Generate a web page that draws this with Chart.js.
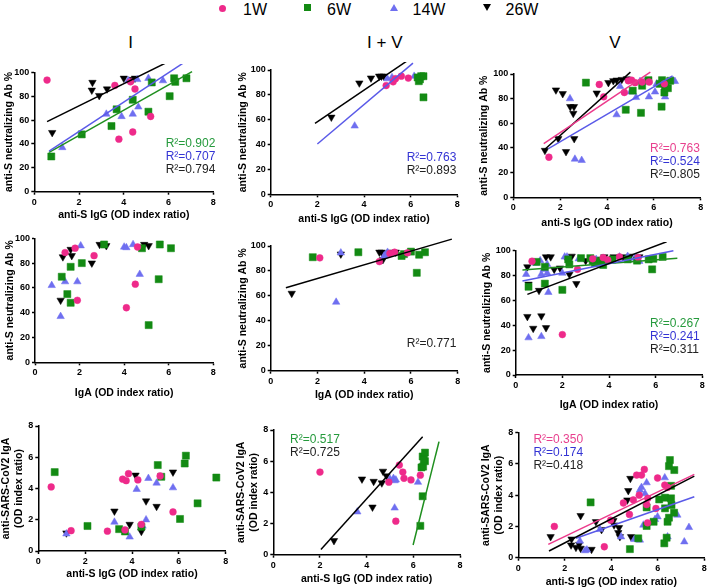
<!DOCTYPE html>
<html>
<head>
<meta charset="utf-8">
<script src="https://cdn.jsdelivr.net/npm/chart.js@4.4.1/dist/chart.umd.min.js"></script>
<style>
  body { margin:0; background:#fff; }
  #page { position:relative; width:709px; height:588px; overflow:hidden; font-family:"Liberation Sans", Arial, sans-serif; color:#000; }
  #page canvas { position:absolute; }
  .lg { position:absolute; font-size:16px; line-height:16px; white-space:nowrap; }
  .col { position:absolute; font-size:17px; line-height:17px; transform:translateX(-50%); white-space:nowrap; }
  .mk { position:absolute; }
</style>
</head>
<body>
<div id="page">
  <!-- legend at the top -->
  <div class="mk" style="left:219px;top:4.8px;width:7px;height:7px;border-radius:50%;background:#ee2a8a"></div>
  <div class="lg" style="left:243px;top:1.5px">1W</div>
  <div class="mk" style="left:303.5px;top:4px;width:7px;height:7px;background:#138a13"></div>
  <div class="lg" style="left:327px;top:1.5px">6W</div>
  <div class="mk" style="left:389.5px;top:4px;width:0;height:0;border-left:4px solid transparent;border-right:4px solid transparent;border-bottom:7px solid #6f6ff0"></div>
  <div class="lg" style="left:412.5px;top:1.5px">14W</div>
  <div class="mk" style="left:482.5px;top:3.5px;width:0;height:0;border-left:4px solid transparent;border-right:4px solid transparent;border-top:7px solid #000"></div>
  <div class="lg" style="left:505.5px;top:1.5px">26W</div>

  <!-- column titles -->
  <div class="col" style="left:130.5px;top:34px">I</div>
  <div class="col" style="left:384.8px;top:34px">I + V</div>
  <div class="col" style="left:614.8px;top:34px">V</div>

  <canvas id="c1"></canvas><canvas id="c2"></canvas><canvas id="c3"></canvas>
  <canvas id="c4"></canvas><canvas id="c5"></canvas><canvas id="c6"></canvas>
  <canvas id="c7"></canvas><canvas id="c8"></canvas><canvas id="c9"></canvas>
</div>
<script>
// groups: weeks after vaccination
const weeks = ['1W', '6W', '14W', '26W'];
const pctTicks = [0, 20, 40, 60, 80, 100];
const odTicks = [0, 2, 4, 6, 8];

// ---- row 1 : neutralizing Ab % vs anti-S IgG
const I_igg_1W = [[0.57,93.5],[3.6,89],[4.3,92],[4.5,86],[3.78,44],[4.4,50],[5.2,63]];
const I_igg_6W = [[0.76,29.5],[2.12,48],[3.45,55],[3.68,69],[4.4,77],[5.1,67],[5.25,91.5],[6.05,80],[6.25,95],[6.3,92],[6.8,95]];
const I_igg_14W = [[1.25,37],[3.22,65],[3.9,63],[4.4,65],[4.65,71],[4.2,93],[4.6,94],[5.1,95],[5.75,93]];
const I_igg_26W = [[0.8,49.5],[2.6,91.5],[2.57,85],[2.9,80.5],[3.25,86],[4.0,95],[4.4,94],[4.5,95]];
const I_igg_fit = [['26W',0.57,58.7,6.65,115],['14W',0.66,34,6.8,109.5],['6W',0.66,33,7.05,100.5]];
const I_igg_r2 = [['6W','0.902'],['14W','0.707'],['26W','0.794']];

const IV_igg_1W = [[4.95,87.5],[5.25,90.5],[5.35,93],[5.6,95],[5.9,93.5]];
const IV_igg_6W = [[6.3,94],[6.35,91],[6.4,92.5],[6.45,95],[6.55,95],[6.55,78]];
const IV_igg_14W = [[3.6,55],[5.0,93],[5.2,94],[6.15,95]];
const IV_igg_26W = [[2.6,62],[3.8,89.5],[4.3,93.5],[4.65,95],[4.75,95],[4.85,95]];
const IV_igg_fit = [['26W',1.9,57,5.9,108],['14W',2.0,40.5,6.1,105.5]];
const IV_igg_r2 = [['14W','0.763'],['26W','0.893']];

const V_igg_1W = [[1.52,32.5],[3.67,91.5],[3.86,81.5],[4.74,85],[4.91,94.5],[5.05,95],[5.2,93],[5.5,93.5],[5.8,93.5],[6.45,92]];
const V_igg_6W = [[3.1,93],[4.8,71],[5.1,86.5],[5.45,68.5],[5.5,90.5],[5.77,95],[6.25,92],[6.33,73.5],[6.35,95],[6.45,85],[6.48,90.5],[6.5,93],[6.6,88.5],[6.7,94.5]];
const V_igg_14W = [[2.42,80],[2.63,31],[2.92,30],[4.41,67],[4.56,90],[5.01,85.5],[5.24,81],[5.41,94],[5.6,93.5],[5.79,81.5],[6.05,85.5],[6.12,92],[6.33,92.5],[6.48,81.5],[6.83,94.5],[6.9,94]];
const V_igg_26W = [[1.35,38],[1.82,87],[1.92,47.5],[2.11,84],[2.25,37],[2.43,73.5],[2.59,73.5],[2.56,68],[2.6,47.5],[3.56,84.5],[4.06,93],[4.27,94.5],[4.41,95],[4.63,95.5],[4.84,96]];
const V_igg_fit = [['1W',1.3,43.5,5.85,101.5],['26W',1.35,39,5.0,101.5],['14W',1.5,39.5,6.8,98.5]];
const V_igg_r2 = [['1W','0.763'],['14W','0.524'],['26W','0.805']];

// ---- row 2 : neutralizing Ab % vs IgA
const I_iga_1W = [[1.35,88.5],[1.8,92],[1.9,50],[2.65,86],[4.1,44],[4.5,63],[4.6,93]];
const I_iga_6W = [[1.2,69],[1.45,55],[1.6,77],[1.6,48],[2.1,80],[3.1,95],[4.8,92],[5.1,30],[5.55,67],[5.6,95],[6.1,92]];
const I_iga_14W = [[0.75,62],[1.15,37],[1.35,65],[1.9,65],[2.05,94],[4.0,93],[4.1,92.5],[4.4,95],[4.7,71]];
const I_iga_26W = [[1.15,50],[1.25,85],[1.6,91],[1.65,86],[2.55,80],[2.9,95],[3.2,94],[4.9,95],[5.1,94]];

const IV_iga_1W = [[2.1,90.5],[4.65,87.5],[5.1,94],[5.3,95],[5.85,94.5]];
const IV_iga_6W = [[1.8,91],[3.75,95],[5.6,92],[5.7,93.5],[6.0,95.5],[6.25,78.5],[6.35,93],[6.6,95]];
const IV_iga_14W = [[2.8,55],[3.0,94.5],[4.85,92],[4.9,93],[5.0,95]];
const IV_iga_26W = [[0.9,62],[3.0,93.5],[4.65,95],[4.75,95],[4.8,89],[4.95,94],[5.1,95],[5.35,95]];
const IV_iga_fit = [['26W',0.65,66.5,7.75,105.5]];
const IV_iga_r2 = [['26W','0.771']];

const V_iga_1W = [[0.7,91.5],[2.0,32.5],[2.65,85],[3.3,93.5],[3.75,94.5],[3.95,92.5],[4.45,95],[5.25,94.5]];
const V_iga_6W = [[0.55,71],[0.9,91],[1.25,73.5],[1.25,87],[2.0,68.5],[2.25,93],[2.3,89],[2.8,94],[3.2,94],[3.3,92],[3.4,90],[3.5,91],[3.65,92],[3.75,88.5],[4.15,93],[4.8,93],[5.2,92],[5.7,93],[5.85,85],[5.9,93.5],[6.3,95]];
const V_iga_14W = [[0.45,81],[0.55,30],[0.85,90],[1.05,92],[1.1,81],[1.1,31],[1.2,85],[1.35,82],[1.35,89],[1.4,66.5],[2.0,82],[2.1,95],[2.2,95],[2.7,93.5],[3.45,93],[4.45,95],[4.8,95.5],[5.1,94],[5.3,91.5]];
const V_iga_26W = [[0.5,87],[0.55,73],[0.5,47],[0.75,37.5],[1.0,68],[1.1,47.5],[1.3,38],[1.3,95],[1.5,95],[1.65,85],[1.9,86],[2.2,93],[2.3,81],[2.4,95.5],[2.6,73.5],[3.0,92],[3.6,93],[3.8,95],[4.2,95],[4.6,95],[4.9,95.5],[5.3,95]];
const V_iga_fit = [['26W',0.5,64.9,6.47,107.2],['14W',0.29,75.6,6.76,100],['6W',0.29,84.5,6.93,93.9]];
const V_iga_r2 = [['6W','0.267'],['14W','0.241'],['26W','0.311']];

// ---- row 3 : anti-SARS-CoV2 IgA vs anti-S IgG
const I_gga_1W = [[0.55,4.1],[1.4,1.3],[2.95,1.27],[3.6,4.6],[3.75,4.5],[3.85,4.95],[4.25,4.55],[3.7,1.35],[4.4,1.7],[5.2,4.8],[5.75,2.5]];
const I_gga_6W = [[0.7,5.05],[2.1,1.6],[3.45,1.4],[3.7,1.25],[4.4,1.55],[5.1,5.5],[5.25,4.75],[6.05,2.05],[6.25,5.6],[6.3,6.1],[6.8,3.05],[7.6,4.7]];
const I_gga_14W = [[1.2,1.1],[3.25,1.85],[3.9,0.9],[4.2,3.95],[4.45,1.6],[4.6,2.0],[4.7,4.65],[5.05,4.35],[5.75,4.05]];
const I_gga_26W = [[1.2,1.15],[3.25,2.55],[3.9,1.7],[4.15,4.85],[4.4,1.25],[4.6,3.2],[5.05,2.85],[5.75,5.05]];

const IV_gga_1W = [[2.0,5.3],[4.95,4.65],[5.25,2.15],[5.4,5.75],[5.55,5.3],[5.6,4.9],[5.9,4.8],[6.3,5.1]];
const IV_gga_6W = [[6.3,1.85],[6.4,3.75],[6.35,5.6],[6.42,5.65],[6.4,6.3],[6.5,6.0],[6.5,6.55],[6.45,6.1]];
const IV_gga_14W = [[3.6,2.75],[5.0,4.85],[5.15,4.9],[5.2,4.75],[5.25,4.8],[5.2,3.0],[6.2,4.65]];
const IV_gga_26W = [[2.6,0.9],[3.8,4.85],[4.25,3.05],[4.3,4.7],[4.65,4.6],[4.7,5.35],[4.85,5.05]];
const IV_gga_fit = [['26W',2.04,0.34,6.4,7.57],['6W',5.99,0.62,7.1,7.25]];
const IV_gga_r2 = [['6W','0.517'],['26W','0.725']];

const V_gga_1W = [[1.55,2.0],[3.7,0.7],[3.97,2.4],[4.52,3.5],[4.78,2.77],[4.95,3.7],[5.09,5.29],[5.2,4.0],[5.3,5.29],[5.42,5.65],[5.52,3.4],[5.57,3.8],[5.56,2.23],[5.92,3.15],[5.99,5.1],[6.3,4.65],[6.42,4.5]];
const V_gga_6W = [[3.11,3.54],[4.8,0.55],[5.16,1.24],[5.52,3.22],[5.52,2.03],[5.82,2.3],[6.06,3.73],[6.28,0.92],[6.31,3.84],[6.31,3.16],[6.38,1.28],[6.42,2.3],[6.48,2.56],[6.52,6.25],[6.48,5.86],[6.57,3.8],[6.59,3.37],[6.7,2.88],[6.71,5.61],[6.57,4.6]];
const V_gga_14W = [[2.65,1.07],[2.87,0.45],[2.95,0.5],[3.51,1.81],[4.42,1.34],[4.99,1.17],[5.23,1.13],[5.38,2.09],[5.23,4.33],[5.3,4.5],[5.45,4.1],[5.52,4.8],[5.88,2.45],[5.99,2.62],[6.3,5.12],[6.42,1.34],[6.84,2.73],[7.14,1.02],[7.34,1.94]];
const V_gga_26W = [[1.39,1.34],[2.29,1.19],[2.27,0.81],[2.48,0.66],[2.62,0.85],[2.68,2.69],[2.68,0.6],[3.15,0.53],[3.34,2.3],[3.58,1.8],[4.09,2.37],[4.12,2.09],[4.3,1.6],[4.37,1.34],[4.33,1.92],[4.69,3.69],[4.73,4.29],[4.82,5.07],[4.85,1.34]];
const V_gga_fit = [['1W',1.29,0.85,7.57,5.33],['26W',1.32,0.43,7.57,5.22],['14W',2.48,1.24,7.57,3.9]];
const V_gga_r2 = [['1W','0.350'],['14W','0.174'],['26W','0.418']];

// look of each group
const FONT = '"Liberation Sans", Arial, sans-serif';
const markColor = {'1W':'#ee2a8a', '6W':'#138a13', '14W':'#6f6ff0', '26W':'#000'};
const lineColor = {'1W':'#ec3a8c', '6W':'#1f8f1f', '14W':'#5a5ae8', '26W':'#000'};
const textColor = {'1W':'#e8408e', '6W':'#259a3c', '14W':'#3434d4', '26W':'#222'};
const markStyle = {'1W':['circle',3.4,0], '6W':['rect',5,0], '14W':['triangle',4.3,0], '26W':['triangle',4.3,180]};

const T_IGG = 'anti-S IgG (OD index ratio)';
const T_IGA = 'IgA (OD index ratio)';
const T_NEUT = 'anti-S neutralizing Ab %';
const T_SARS = ['anti-SARS-CoV2 IgA', '(OD index ratio)'];

// box = plot area [left, right, top, bottom] in page pixels
const panels = [
  {id:'c1', pts:[I_igg_1W,I_igg_6W,I_igg_14W,I_igg_26W], fit:I_igg_fit, r2:I_igg_r2, note:[5.87,40.6], xt:T_IGG, yt:T_NEUT, yTicks:pctTicks, box:[34.3,213.3,72.3,191.7], yOff:25, xGap:23.3},
  {id:'c2', pts:[IV_igg_1W,IV_igg_6W,IV_igg_14W,IV_igg_26W], fit:IV_igg_fit, r2:IV_igg_r2, note:[5.83,29.8], xt:T_IGG, yt:T_NEUT, yTicks:pctTicks, box:[270.7,457.3,70,194.3], yOff:27.7, xGap:24.7},
  {id:'c3', pts:[V_igg_1W,V_igg_6W,V_igg_14W,V_igg_26W], fit:V_igg_fit, r2:V_igg_r2, note:[5.84,39.7], xt:T_IGG, yt:T_NEUT, yTicks:pctTicks, box:[513.3,700.7,74,197.3], yOff:29, xGap:25.4},
  {id:'c4', pts:[I_iga_1W,I_iga_6W,I_iga_14W,I_iga_26W], fit:[], r2:[], note:[0,0], xt:T_IGA, yt:T_NEUT, yTicks:pctTicks, box:[35,213.3,238.3,362.3], yOff:25, xGap:30.7},
  {id:'c5', pts:[IV_iga_1W,IV_iga_6W,IV_iga_14W,IV_iga_26W], fit:IV_iga_fit, r2:IV_iga_r2, note:[5.82,22], xt:T_IGA, yt:T_NEUT, yTicks:pctTicks, box:[270.7,457.7,246,370.7], yOff:27.7, xGap:24.3},
  {id:'c6', pts:[V_iga_1W,V_iga_6W,V_iga_14W,V_iga_26W], fit:V_iga_fit, r2:V_iga_r2, note:[5.76,41.6], xt:T_IGA, yt:T_NEUT, yTicks:pctTicks, box:[515.7,702.3,250.7,375], yOff:29, xGap:30},
  {id:'c7', pts:[I_gga_1W,I_gga_6W,I_gga_14W,I_gga_26W], fit:[], r2:[], note:[0,0], xt:T_IGG, yt:T_SARS, yTicks:odTicks, box:[38.3,225.7,426,551], yOff:32.3, xGap:23.3},
  {id:'c8', pts:[IV_gga_1W,IV_gga_6W,IV_gga_14W,IV_gga_26W], fit:IV_gga_fit, r2:IV_gga_r2, note:[0.72,7.4], xt:T_IGG, yt:T_SARS, yTicks:odTicks, box:[273.3,460,430,554.7], yOff:32, xGap:24.6},
  {id:'c9', pts:[V_gga_1W,V_gga_6W,V_gga_14W,V_gga_26W], fit:V_gga_fit, r2:V_gga_r2, note:[0.65,7.54], xt:T_IGG, yt:T_SARS, yTicks:odTicks, box:[518.3,704.3,432.7,557.7], yOff:31.8, xGap:24}
];

const TITLE_SIZE = 10.5, TITLE_LH = 1.24;

function drawPanel(p) {
  const [L, R, T, B] = p.box;
  const lh = TITLE_SIZE * TITLE_LH;
  const wy = p.yOff + lh / 2;   // y axis box (ticks + title)
  const hx = p.xGap + lh / 2;   // x axis box
  const cl = Math.floor(L - wy), ct = Math.floor(T - 8);
  const w = Math.ceil(R + 8 - cl), h = Math.ceil(B + hx - ct);
  const pad = {left: L - wy - cl, top: T - ct, right: w - (R - cl), bottom: h - hx - (B - ct)};

  const cv = document.getElementById(p.id);
  cv.width = w; cv.height = h;
  cv.style.left = cl + 'px'; cv.style.top = ct + 'px';

  const datasets = [];
  p.fit.forEach(f => datasets.push({
    data: [{x:f[1], y:f[2]}, {x:f[3], y:f[4]}],
    showLine: true, borderColor: lineColor[f[0]], borderWidth: 1.5,
    pointRadius: 0, clip: false
  }));
  weeks.forEach((wk, i) => {
    const [ps, r, rot] = markStyle[wk];
    datasets.push({
      label: wk,
      data: p.pts[i].map(d => ({x:d[0], y:d[1]})),
      pointStyle: ps, pointRadius: r, pointRotation: rot,
      pointBackgroundColor: markColor[wk], pointBorderColor: markColor[wk], pointBorderWidth: 0.5,
      clip: false
    });
  });

  // R² texts inside the plot
  const notes = {
    id: 'notes',
    afterDatasetsDraw(chart) {
      if (!p.r2.length) return;
      const {ctx, scales} = chart;
      const x0 = scales.x.getPixelForValue(p.note[0]);
      const y0 = scales.y.getPixelForValue(p.note[1]);
      ctx.save();
      ctx.font = '12px ' + FONT;
      ctx.textBaseline = 'middle';
      ctx.textAlign = 'left';
      p.r2.forEach((r, i) => {
        ctx.fillStyle = textColor[r[0]];
        ctx.fillText('R\u00b2=' + r[1], x0, y0 + i * 13);
      });
      ctx.restore();
    }
  };

  const axis = (ticks, max, title, isX) => ({
    type: 'linear', min: 0, max: max,
    afterBuildTicks: s => { s.ticks = ticks.map(v => ({value: v})); },
    afterFit: s => { if (isX) s.height = hx; else s.width = wy; },
    grid: {drawOnChartArea: false, drawTicks: true, tickLength: 3, tickWidth: 1.5, tickColor: '#000'},
    border: {display: true, color: '#000', width: 1.5},
    ticks: {color: '#000', padding: 2, autoSkip: false, maxRotation: 0, font: {family: FONT, size: 9, weight: 'bold'}},
    title: {display: true, text: title, color: '#000', padding: 0, font: {family: FONT, size: TITLE_SIZE, weight: 'bold', lineHeight: TITLE_LH}}
  });

  new Chart(cv, {
    type: 'scatter',
    data: {datasets},
    options: {
      responsive: false, animation: false, devicePixelRatio: 1,
      layout: {padding: pad},
      plugins: {legend: {display: false}, tooltip: {enabled: false}},
      scales: {
        x: axis(odTicks, 8, p.xt, true),
        y: axis(p.yTicks, p.yTicks[p.yTicks.length - 1], p.yt, false)
      }
    },
    plugins: [notes]
  });
}

panels.forEach(drawPanel);
</script>
</body>
</html>
